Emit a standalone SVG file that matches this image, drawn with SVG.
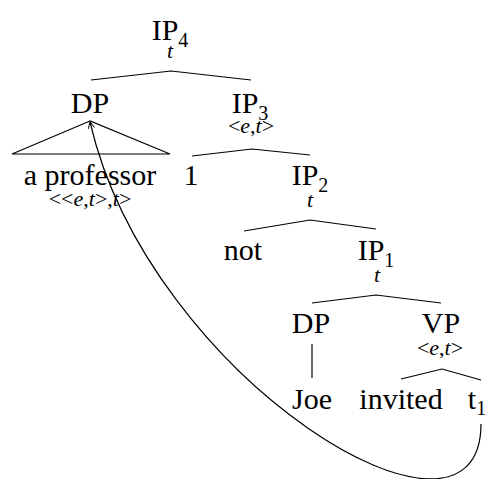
<svg xmlns="http://www.w3.org/2000/svg" width="490" height="479" viewBox="0 0 490 479">
  <style>
    .edge { fill: none; stroke: #000; stroke-width: 1.2; }
  </style>
  <defs>
    <marker id="arrow" viewBox="0 0 10 10" refX="9" refY="5" markerWidth="8" markerHeight="8" orient="auto" markerUnits="userSpaceOnUse">
      <path d="M1,1 L9,5 L1,9" fill="none" stroke="#000" stroke-width="1.2"/>
    </marker>
  </defs>

  <!-- tree edges and movement arrow -->
  <g id="connectors">
    <polyline class="edge" points="91,80 171,71 251,80"/>
    <polygon class="edge" points="90,121 12,154 170,154"/>
    <polyline class="edge" points="192,156 252,149 310,155"/>
    <polyline class="edge" points="244,231 310,220 376,229"/>
    <polyline class="edge" points="312,303 376,295 441,303"/>
    <line class="edge" x1="312" y1="344" x2="312" y2="378"/>
    <polyline class="edge" points="401,379 442,369 481,380"/>
    <path class="edge" d="M481,424 C481,580 150,380 90,122" marker-end="url(#arrow)"/>
  </g>

  <g id="ip4">
    <text x="170" y="40" font-family="Liberation Serif" font-size="30" text-anchor="middle">IP<tspan font-size="20" dy="7">4</tspan></text>
    <text x="170" y="58" font-family="Liberation Serif" font-size="22" font-style="italic" text-anchor="middle">t</text>
  </g>
  <g id="dp-top">
    <text x="90" y="113" font-family="Liberation Serif" font-size="30" text-anchor="middle">DP</text>
  </g>
  <g id="ip3">
    <text x="250" y="113" font-family="Liberation Serif" font-size="30" text-anchor="middle">IP<tspan font-size="20" dy="7">3</tspan></text>
    <text x="251" y="133" font-family="Liberation Serif" font-size="22" text-anchor="middle">&lt;<tspan font-style="italic">e</tspan>,<tspan font-style="italic">t</tspan>&gt;</text>
  </g>
  <g id="a-professor">
    <text x="90" y="185" font-family="Liberation Serif" font-size="30" text-anchor="middle">a professor</text>
    <text x="90" y="206" font-family="Liberation Serif" font-size="22" text-anchor="middle">&lt;&lt;<tspan font-style="italic">e</tspan>,<tspan font-style="italic">t</tspan>&gt;,<tspan font-style="italic">t</tspan>&gt;</text>
  </g>
  <g id="index-1">
    <text x="191" y="185" font-family="Liberation Serif" font-size="30" text-anchor="middle">1</text>
  </g>
  <g id="ip2">
    <text x="310" y="185" font-family="Liberation Serif" font-size="30" text-anchor="middle">IP<tspan font-size="20" dy="7">2</tspan></text>
    <text x="310" y="207" font-family="Liberation Serif" font-size="22" font-style="italic" text-anchor="middle">t</text>
  </g>
  <g id="not">
    <text x="243" y="260" font-family="Liberation Serif" font-size="30" text-anchor="middle">not</text>
  </g>
  <g id="ip1">
    <text x="376" y="260" font-family="Liberation Serif" font-size="30" text-anchor="middle">IP<tspan font-size="20" dy="7">1</tspan></text>
    <text x="377" y="282" font-family="Liberation Serif" font-size="22" font-style="italic" text-anchor="middle">t</text>
  </g>
  <g id="dp-joe">
    <text x="311" y="333" font-family="Liberation Serif" font-size="30" text-anchor="middle">DP</text>
  </g>
  <g id="vp">
    <text x="441" y="333" font-family="Liberation Serif" font-size="30" text-anchor="middle">VP</text>
    <text x="440" y="355" font-family="Liberation Serif" font-size="22" text-anchor="middle">&lt;<tspan font-style="italic">e</tspan>,<tspan font-style="italic">t</tspan>&gt;</text>
  </g>
  <g id="joe">
    <text x="312" y="409" font-family="Liberation Serif" font-size="30" text-anchor="middle">Joe</text>
  </g>
  <g id="invited">
    <text x="401" y="409" font-family="Liberation Serif" font-size="30" text-anchor="middle">invited</text>
  </g>
  <g id="trace">
    <text x="477" y="409" font-family="Liberation Serif" font-size="30" text-anchor="middle">t<tspan font-size="20" dy="6">1</tspan></text>
  </g>
</svg>
